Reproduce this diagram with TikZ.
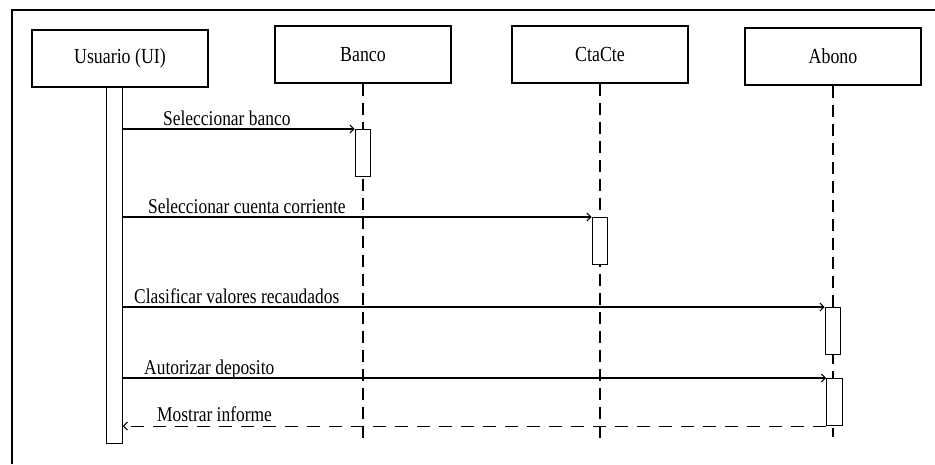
\documentclass[tikz,border=0pt]{standalone}
\usepackage{fontspec}
\setmainfont{Liberation Serif}
% narrow, tall serif for all diagram labels
\newfontfamily\diagfont[FakeStretch=0.83]{Liberation Serif}
\usetikzlibrary{arrows.meta}
\begin{document}
\begin{tikzpicture}[x=1pt,y=-1pt,
  objbox/.style={draw, line width=1.1pt, inner sep=0pt, minimum width=176pt, minimum height=57pt,
                 font=\diagfont\fontsize{21.5}{24}\selectfont},
  actbar/.style={draw, fill=white, line width=1.1pt, inner sep=0pt, minimum width=15.5pt},
  lifeline/.style={line width=1.1pt, dash pattern=on 12pt off 7pt},
  msg/.style={line width=1.1pt, -{Straight Barb[length=4pt,width=8pt]}},
  reply/.style={msg, dash pattern=on 13pt off 9pt},
  msglabel/.style={anchor=base west, inner sep=0pt, font=\diagfont\fontsize{21}{24}\selectfont},
]
\useasboundingbox (0,0) rectangle (935,464);

% frame
\draw[line width=1.5pt] (12,464) -- (12,10) -- (935,10);

% participants
\node[objbox] (usuario) at (120,58.5) {Usuario (UI)};
\node[objbox] (banco)   at (363,54.5) {Banco};
\node[objbox] (ctacte)  at (600,54.5) {CtaCte};
\node[objbox] (abono)   at (833,56.5) {Abono};

% lifelines
\coordinate (bancoEnd)  at (363,443);
\coordinate (ctacteEnd) at (600,438);
\coordinate (abonoEnd)  at (833,437);
\draw[lifeline] (banco.south)  -- (bancoEnd);
\draw[lifeline] (ctacte.south) -- (ctacteEnd);
\draw[lifeline] (abono.south)  -- (abonoEnd);

% activation bars
\node[actbar, minimum height=356pt, anchor=north] (ubar) at (114.5,87) {};
\node[actbar, minimum height=47pt, anchor=north] (b1) at (363,129) {};
\node[actbar, minimum height=47pt, anchor=north] (c1) at (600,217) {};
\node[actbar, minimum height=47pt, anchor=north] (a1) at (833,307) {};
\node[actbar, minimum height=47pt, anchor=north] (a2) at (834.5,378) {};

% messages
\draw[msg] (ubar.east |- b1.north) -- (b1.north west);
\node[msglabel] (m1) at (163,125.5) {Seleccionar banco};

\draw[msg] (ubar.east |- c1.north) -- (c1.north west);
\node[msglabel] (m2) at (148,213.5) {Seleccionar cuenta corriente};

\draw[msg] (ubar.east |- a1.north) -- (a1.north west);
\node[msglabel] (m3) at (134,303.5) {Clasificar valores recaudados};

\draw[msg] (ubar.east |- a2.north) -- (a2.north west);
\node[msglabel] (m4) at (144,374.5) {Autorizar deposito};

\draw[reply] (a2.south west) -- (ubar.east |- a2.south west);
\node[msglabel] (m5) at (157,421.5) {Mostrar informe};
\end{tikzpicture}
\end{document}
